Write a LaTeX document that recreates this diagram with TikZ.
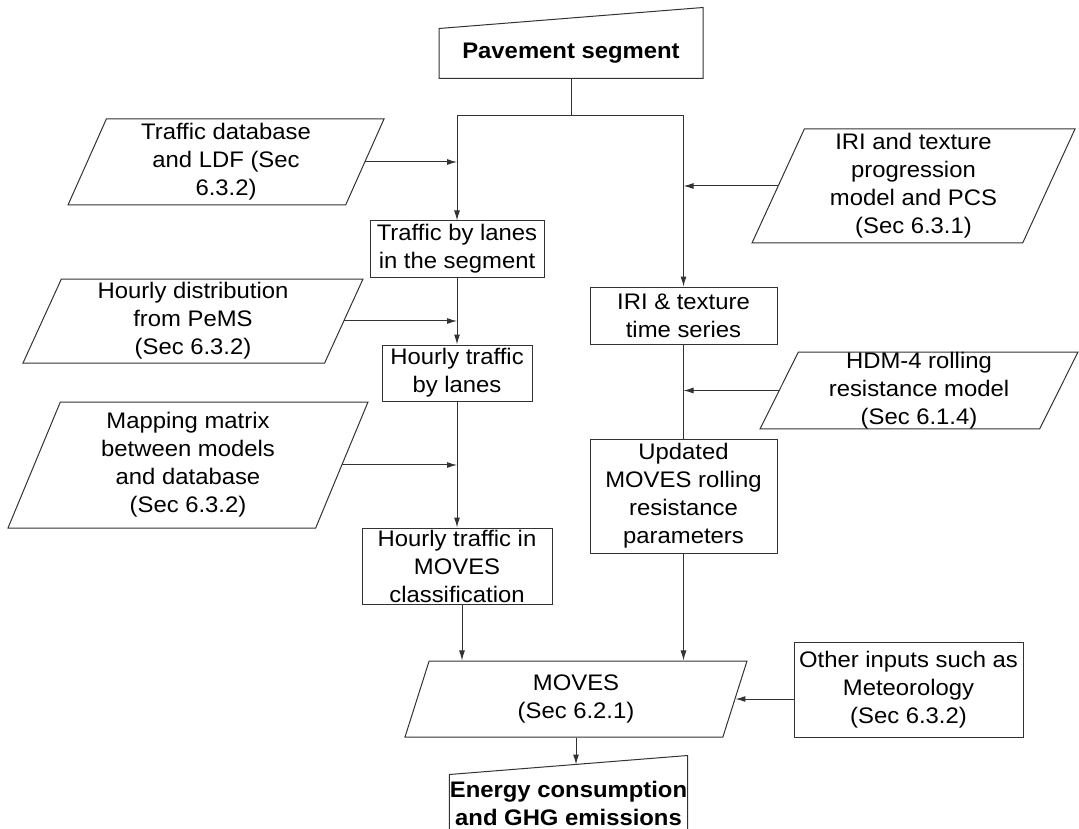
\documentclass[tikz,border=0pt]{standalone}
\usepackage{fontspec}
\setmainfont[FakeStretch=1.06]{Liberation Sans}
\usepackage{tikz}
\usetikzlibrary{shapes.geometric, arrows.meta}
\tikzstyle{process} = [rectangle, 
draw=black!80, 
inner sep=0pt, 
align=center, 
font=\fontsize{22.5}{28}\selectfont]
\tikzstyle{dataio} = [trapezium, 
trapezium left angle=63.5, 
trapezium right angle=116.5, 
trapezium stretches body, 
draw=black!80, 
inner sep=0pt, 
align=center, 
font=\fontsize{22.5}{28}\selectfont]
\tikzstyle{manual} = [rectangle, 
inner sep=0pt, 
align=center, 
font=\fontsize{22.5}{28}\selectfont\bfseries]
\tikzstyle{arrow} = [draw=black!80, ->, >={Latex[length=10pt, width=6pt]}]
\tikzstyle{link} = [draw=black!80]

\begin{document}
\begin{tikzpicture}[x=1pt, y=-1pt, line width=1pt]
  \useasboundingbox (0,0) rectangle (1079,829);

  \node (pave) [manual, minimum width=263pt, minimum height=49pt] at (571,53.5) {Pavement segment};
  \draw [link] (pave.south west) -- (pave.north west) -- ([yshift=21pt]pave.north east) -- (pave.south east) -- cycle;
  \coordinate (split) at (571,116);

  % left column: traffic
  \node (trafdb) [dataio, minimum width=316pt, minimum height=86pt] at (226,162) {Traffic database\\and LDF (Sec\\6.3.2)};
  \node (lanes) [process, minimum width=174pt, minimum height=56pt] at (457,249) {Traffic by lanes\\in the segment};
  \node (hourdist) [dataio, minimum width=340pt, minimum height=84pt] at (193,321) {Hourly distribution\\from PeMS\\(Sec 6.3.2)};
  \node (hourly) [process, minimum width=150pt, minimum height=56pt] at (457,373) {Hourly traffic\\by lanes};
  \node (mapping) [dataio, minimum width=360pt, minimum height=126pt] at (188,465) {Mapping matrix\\between models\\and database\\(Sec 6.3.2)};
  \node (movcls) [process, minimum width=190pt, minimum height=76pt] at (457,566) {Hourly traffic in\\MOVES\\classification};

  % right column: pavement condition
  \node (progmodel) [dataio, minimum width=323pt, minimum height=114pt] at (913.5,186) {IRI and texture\\progression\\model and PCS\\(Sec 6.3.1)};
  \node (iri) [process, minimum width=187pt, minimum height=57pt] at (683.5,315.5) {IRI \& texture\\time series};
  \node (hdm) [dataio, minimum width=318pt, minimum height=75pt] at (919,390.5) {HDM-4 rolling\\resistance model\\(Sec 6.1.4)};
  \node (updated) [process, minimum width=187pt, minimum height=114pt] at (683.5,496) {Updated\\MOVES rolling\\resistance\\parameters};

  % emissions
  \node (moves) [dataio, minimum width=342pt, minimum height=76pt] at (576,699) {MOVES\\(Sec 6.2.1)};
  \node (other) [process, minimum width=229pt, minimum height=95pt] at (908.5,689.5) {Other inputs such as\\Meteorology\\(Sec 6.3.2)};
  \node (energy) [manual, minimum width=231pt, minimum height=56pt] at (568.5,803) {Energy consumption\\and GHG emissions};
  \draw [link] (energy.south west) -- (energy.north west) -- ([yshift=19pt]energy.north east) -- (energy.south east);

  \draw [link] (pave.south) -- (split);
  \draw [arrow] (split) -| (lanes.north);
  \draw [arrow] (split) -| (iri.north);
  \draw [arrow] (trafdb.east) -- (trafdb.east -| lanes.north);
  \draw [arrow] (lanes.south) -- (hourly.north);
  \draw [arrow] (hourdist.east) -- (hourdist.east -| lanes.south);
  \draw [arrow] (hourly.south) -- (movcls.north);
  \draw [arrow] (mapping.east) -- (mapping.east -| hourly.south);
  \draw [arrow] (progmodel.west) -- (progmodel.west -| iri.north);
  \draw [link] (iri.south) -- (updated.north);
  \draw [arrow] (hdm.west) -- (hdm.west -| iri.south);
  \draw [arrow] ([xshift=5pt]movcls.south) -- ([xshift=5pt]movcls.south |- moves.north);
  \draw [arrow] (updated.south) -- (updated.south |- moves.north);
  \draw [arrow] (other.west |- moves.east) -- (moves.east);
  \draw [arrow] (moves.south) -- ([yshift=10pt]moves.south |- energy.north);

\end{tikzpicture}
\end{document}
